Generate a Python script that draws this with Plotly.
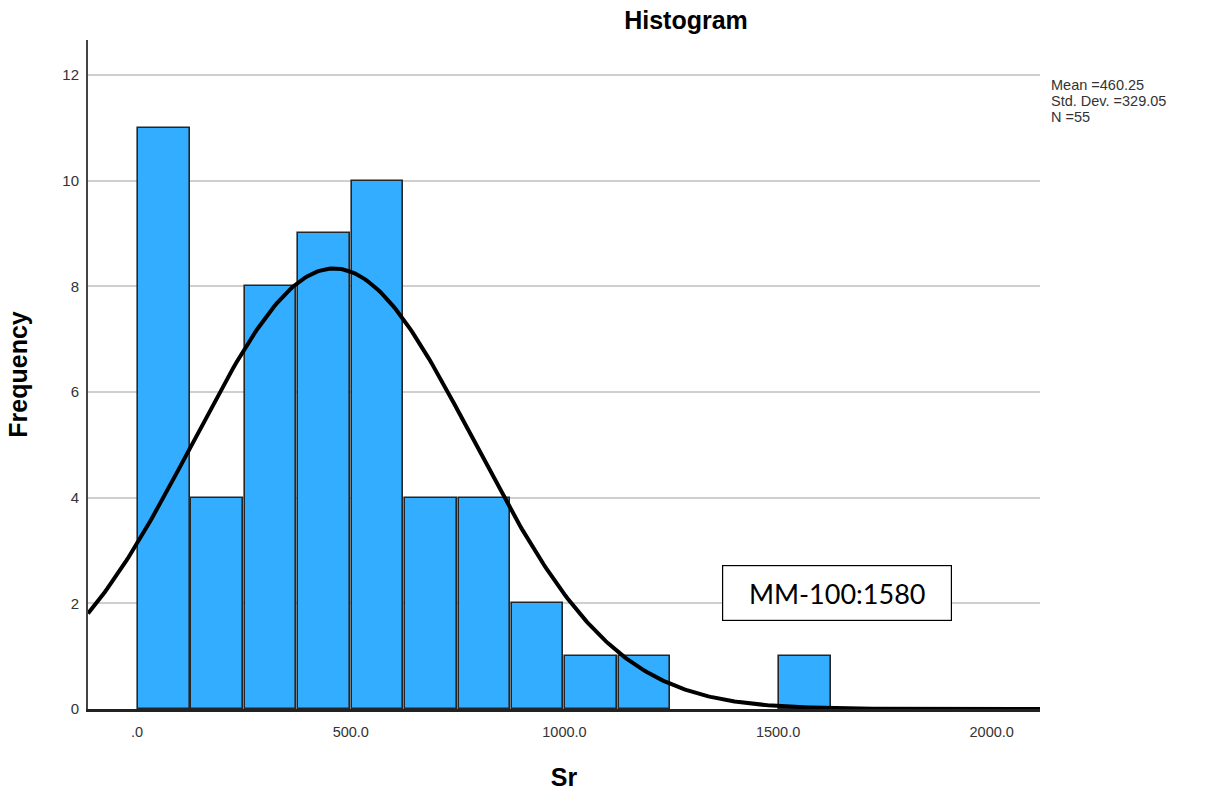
import numpy as np
import plotly.graph_objects as go

# Histogram of Sr (bin width 125)
bin_left = [0, 125, 250, 375, 500, 625, 750, 875, 1000, 1125, 1500]
counts = [11, 4, 8, 9, 10, 4, 4, 2, 1, 1, 1]
bin_width = 125

mean_sr = 460.25
sd_sr = 329.05
n_obs = 55

x_ticks = [0, 500, 1000, 1500, 2000]
x_tick_text = [".0", "500.0", "1000.0", "1500.0", "2000.0"]
y_ticks = [0, 2, 4, 6, 8, 10, 12]

x_min, x_max = -115, 2113
y_max = 12.66

centers = [b + bin_width / 2 for b in bin_left]

# Normal curve scaled to frequency
xc = np.linspace(x_min, x_max, 400)
yc = n_obs * bin_width / (sd_sr * np.sqrt(2 * np.pi)) * np.exp(-0.5 * ((xc - mean_sr) / sd_sr) ** 2)

fig = go.Figure()
fig.add_trace(go.Bar(
    x=centers, y=counts, width=bin_width * 0.965,
    marker=dict(color="#33adff", line=dict(color="#262626", width=1.6)),
    hoverinfo="x+y",
))
fig.add_trace(go.Scatter(
    x=xc, y=yc, mode="lines",
    line=dict(color="black", width=4),
    hoverinfo="skip",
))

fig.update_layout(
    width=1206, height=793,
    margin=dict(l=88, r=166, t=40, b=84),
    paper_bgcolor="white", plot_bgcolor="white",
    showlegend=False,
    bargap=0,
    title=dict(text="<b>Histogram</b>", x=686 / 1206, xanchor="center",
               y=1 - 20 / 793, yanchor="middle",
               font=dict(family="Liberation Sans, Arial", size=25, color="black")),
    font=dict(family="Liberation Sans, Arial", color="#333333"),
)

fig.update_xaxes(
    range=[x_min, x_max], tickvals=x_ticks, ticktext=x_tick_text,
    showgrid=False, zeroline=False, automargin=False,
    showline=True, linecolor="#222222", linewidth=2.5,
    ticks="", tickfont=dict(size=14.5, color="#333333"),
    ticklabelstandoff=8,
    title=dict(text="<b>Sr</b>", font=dict(size=25, color="black"), standoff=30),
)
fig.update_yaxes(
    range=[0, y_max], tickvals=y_ticks,
    showgrid=True, gridcolor="#cfcfcf", gridwidth=2,
    zeroline=False, automargin=False,
    showline=True, linecolor="#444444", linewidth=2,
    ticks="", tickfont=dict(size=15, color="#333333"),
    ticklabelstandoff=4,
    title=dict(text="<b>Frequency</b>", font=dict(size=25, color="black"), standoff=28),
)

# Summary statistics on the right
stats_lines = [f"Mean ={mean_sr:.2f}", f"Std. Dev. ={sd_sr:.2f}", f"N ={n_obs}"]
for i, line in enumerate(stats_lines):
    fig.add_annotation(
        xref="paper", yref="paper", x=(1049 - 88) / (1040 - 88),
        y=1 - (85 + 16 * i - 40) / (709 - 40),
        xanchor="left", yanchor="middle", align="left", showarrow=False,
        text=line,
        font=dict(family="Liberation Sans, Arial", size=14.5, color="#333333"),
    )

# Label box for the outlier
fig.add_annotation(
    x=1637, y=2.2, xref="x", yref="y", showarrow=False,
    text="MM-100:1580",
    font=dict(family="Lato, Open Sans", size=27, color="black"),
    bordercolor="black", borderwidth=1.2, borderpad=10,
    bgcolor="white",
    width=208, height=34,
)

fig.write_html("out.html")
